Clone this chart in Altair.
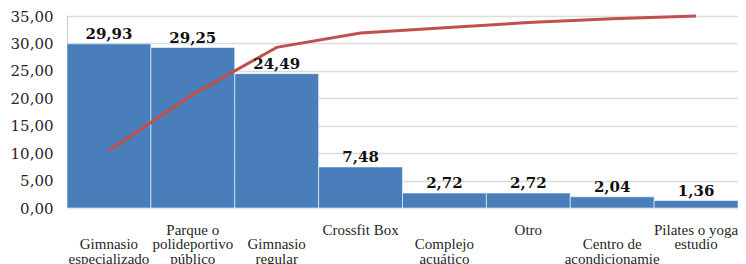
import json
import altair as alt
import pandas as pd

categories = [
    "Gimnasio especializado",
    "Parque o polideportivo público",
    "Gimnasio regular",
    "Crossfit Box",
    "Complejo acuático",
    "Otro",
    "Centro de acondicionamiento",
    "Pilates o yoga estudio",
]
values = [29.93, 29.25, 24.49, 7.48, 2.72, 2.72, 2.04, 1.36]
# cumulative line (0-35 axis)
line_values = [10.48, 20.71, 29.28, 31.90, 32.85, 33.81, 34.52, 35.00]
label_lines = [
    ["Gimnasio", "especializado"],
    ["Parque o", "polideportivo", "público"],
    ["Gimnasio", "regular"],
    ["Crossfit Box"],
    ["Complejo", "acuático"],
    ["Otro"],
    ["Centro de", "acondicionamie"],
    ["Pilates o yoga", "estudio"],
]
stagger = [1, 0, 1, 0, 1, 0, 1, 0]
y_ticks = [0, 5, 10, 15, 20, 25, 30, 35]

df = pd.DataFrame({"cat": categories, "value": values, "cum": line_values})

# build label expression
expr = "''"
for cat, lines, s in reversed(list(zip(categories, label_lines, stagger))):
    arr = (["\u00a0"] if s else []) + lines
    expr = f"datum.value == {json.dumps(cat, ensure_ascii=False)} ? {json.dumps(arr, ensure_ascii=False)} : ({expr})"

x_scale = alt.Scale(paddingInner=0, paddingOuter=0, round=False)
x_axis = alt.Axis(
    title=None,
    labelAngle=0,
    ticks=False,
    domain=False,
    labelPadding=14,
    labelFont="Liberation Serif",
    labelFontSize=15,
    labelLineHeight=14.5,
    labelColor="#262626",
    labelExpr=expr,
    labelOverlap=False,
    labelBound=False,
    labelFlush=False,
    labelLimit=0,
)

y_scale = alt.Scale(domain=[0, 35], nice=False, zero=True)
y_axis = alt.Axis(
    title=None,
    values=y_ticks,
    tickCount=8,
    ticks=False,
    domain=True,
    domainColor="#c8c8c8",
    grid=True,
    gridColor="#dcdcdc",
    gridWidth=1.3,
    labelPadding=14,
    labelOverlap=False,
    labelFlush=False,
    labelBound=False,
    labelFont="DejaVu Serif",
    labelFontSize=15,
    labelColor="#262626",
    labelExpr="replace(format(datum.value, '.2f'), '.', ',')",
)

X = alt.X("cat:N", sort=categories, scale=x_scale, axis=x_axis)

bars = alt.Chart(df).mark_bar(
    color="#4a7ebb", stroke="#ffffff", strokeWidth=1, strokeOpacity=0.55
).encode(
    x=X,
    y=alt.Y("value:Q", scale=y_scale, axis=y_axis),
)

text = alt.Chart(df).transform_calculate(
    lbl="replace(format(datum.value, '.2f'), '.', ',')"
).mark_text(
    baseline="bottom", dy=-2, font="DejaVu Serif", fontWeight="bold",
    fontSize=15, color="#111111"
).encode(
    x=X,
    y=alt.Y("value:Q", scale=y_scale, axis=y_axis),
    text="lbl:N",
)

line = alt.Chart(df).mark_line(color="#c0504d", strokeWidth=3).encode(
    x=X,
    y=alt.Y("cum:Q", scale=y_scale, axis=y_axis),
)

chart = (
    alt.layer(bars, line, text)
    .properties(
        width=671,
        height=192,
        autosize=alt.AutoSizeParams(type="none"),
        padding={"left": 59, "top": 8, "right": 0, "bottom": 56},
    )
    .configure_view(stroke=None)
    .configure(background="white")
)

chart.save("out.html", embed_options={"renderer": "svg", "actions": False})
